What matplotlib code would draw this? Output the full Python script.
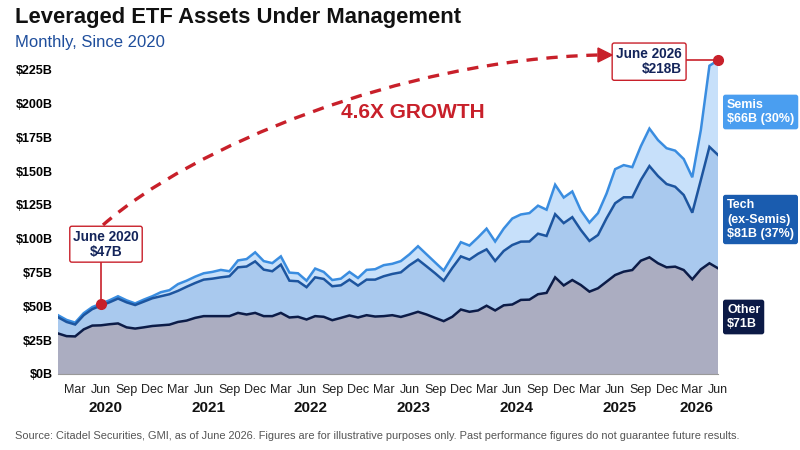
import numpy as np
import matplotlib
matplotlib.use("Agg")
import matplotlib.pyplot as plt
from matplotlib.path import Path
from matplotlib.patches import PathPatch

# --- data (USD bn, monthly Jan 2020 .. Jun 2026) ---
other_aum = [30.0, 28.0, 27.8, 33.0, 35.8, 36.0, 36.8, 37.4, 34.5, 33.6, 34.5, 35.5,
             36.0, 36.5, 38.5, 39.5, 41.5, 42.8, 42.8, 42.8, 42.8, 45.2, 44.0, 45.2,
             42.8, 42.8, 45.2, 41.8, 42.3, 40.3, 42.8, 42.3, 39.8, 41.5, 43.3, 41.8,
             43.5, 42.5, 42.8, 43.5, 42.2, 44.0, 46.0, 44.0, 41.5, 39.1, 42.3, 47.7,
             46.0, 47.0, 50.5, 47.0, 50.8, 51.4, 54.8, 55.0, 59.0, 60.0, 71.5, 65.5,
             69.5, 65.8, 60.9, 63.4, 68.3, 73.2, 75.7, 76.9, 83.8, 86.3, 81.9, 78.9,
             79.4, 76.9, 70.0, 77.4, 81.9, 78.2]
tech_aum = [12.0, 10.5, 8.8, 10.5, 12.2, 14.5, 16.2, 18.4, 18.5, 17.4, 19.0, 20.5,
            21.5, 22.5, 23.0, 25.0, 25.8, 27.0, 27.7, 28.7, 29.5, 33.7, 35.5, 38.1,
            34.4, 33.2, 35.7, 27.2, 26.3, 23.9, 28.7, 28.0, 25.1, 24.1, 26.5, 23.6,
            26.3, 27.3, 29.5, 30.5, 33.0, 36.4, 38.6, 35.6, 33.0, 29.9, 36.1, 39.3,
            38.6, 41.9, 41.7, 36.6, 40.2, 44.0, 43.1, 43.0, 44.8, 42.1, 46.7, 46.1,
            46.5, 40.7, 37.5, 39.4, 46.9, 53.1, 55.0, 53.8, 59.7, 67.5, 64.5, 61.6,
            59.1, 55.5, 49.3, 66.1, 86.1, 83.8]
semis_aum = [1.5, 1.5, 1.4, 1.5, 1.5, 1.5, 1.5, 1.7, 1.5, 1.2, 1.5, 1.5,
             3.0, 3.0, 5.0, 4.5, 4.7, 4.7, 5.0, 5.5, 3.7, 5.1, 5.5, 6.7,
             6.3, 6.0, 6.1, 6.0, 5.9, 4.8, 6.5, 5.2, 4.6, 4.9, 5.7, 5.6,
             7.2, 7.7, 8.2, 7.5, 8.3, 8.1, 9.9, 8.9, 8.0, 7.5, 8.6, 10.5,
             10.4, 12.1, 15.3, 14.4, 16.5, 19.6, 20.1, 21.0, 20.7, 19.4, 21.8, 18.9,
             19.0, 14.5, 13.6, 16.2, 18.3, 25.2, 23.8, 22.3, 25.0, 27.7, 26.6, 26.5,
             26.7, 26.6, 26.2, 37.0, 60.0, 70.0]

month_names = ["Jan", "Feb", "Mar", "Apr", "May", "Jun",
               "Jul", "Aug", "Sep", "Oct", "Nov", "Dec"]
years = [2020, 2021, 2022, 2023, 2024, 2025, 2026]
yticks = [0, 25, 50, 75, 100, 125, 150, 175, 200, 225]

C_OTHER_FILL = "#abadc1"
C_TECH_FILL = "#a9c9ee"
C_SEMIS_FILL = "#c7e0fa"
C_OTHER_LINE = "#0c1c48"
C_TECH_LINE = "#1d559f"
C_SEMIS_LINE = "#3a8de0"
RED = "#c8202a"
NAVY = "#13245a"

plt.rcParams["font.family"] = ["Liberation Sans", "DejaVu Sans"]

x = np.arange(len(other_aum))
lvl_other = np.array(other_aum)
lvl_tech = lvl_other + np.array(tech_aum)
lvl_total = lvl_tech + np.array(semis_aum)

fig = plt.figure(figsize=(8, 4.5), dpi=100)
ax = fig.add_axes([58 / 800, 1 - 374 / 450, 660 / 800, (374 - 49.5) / 450])

ax.stackplot(x, other_aum, tech_aum, semis_aum,
             colors=[C_OTHER_FILL, C_TECH_FILL, C_SEMIS_FILL], linewidth=0)
ax.plot(x, lvl_total, color=C_SEMIS_LINE, lw=1.8, solid_joinstyle="miter")
ax.plot(x, lvl_tech, color=C_TECH_LINE, lw=1.8, solid_joinstyle="miter")
ax.plot(x, lvl_other, color=C_OTHER_LINE, lw=1.8, solid_joinstyle="miter")

ax.set_xlim(0, len(x) - 1)
ax.set_ylim(0, 240)
for s in ["top", "right", "left"]:
    ax.spines[s].set_visible(False)
ax.spines["bottom"].set_color("#999999")
ax.spines["bottom"].set_linewidth(0.8)

ax.set_yticks(yticks)
ax.set_yticklabels([f"${v}B" for v in yticks], fontweight="bold", fontsize=9)
ax.tick_params(axis="y", length=0, pad=4)

qt = [i for i in x if (i % 12) in (2, 5, 8, 11)]
ax.set_xticks(qt)
ax.set_xticklabels([month_names[i % 12] for i in qt], fontsize=9, color="#222222")
ax.tick_params(axis="x", length=0, pad=7)

for yr in years:
    idx = [i for i in x if 2020 + i // 12 == yr]
    ax.text((idx[0] + idx[-1]) / 2, -0.105, str(yr), transform=ax.get_xaxis_transform(),
            ha="center", va="center", fontsize=11, fontweight="bold", color="#111111")

# --- title block ---
fig.text(15 / 800, 1 - 17 / 450, "Leveraged ETF Assets Under Management",
         fontsize=15.8, fontweight="bold", color="#111111", va="center")
fig.text(15 / 800, 1 - 42 / 450, "Monthly, Since 2020",
         fontsize=12, color="#1f4e9c", va="center")
fig.text(15 / 800, 1 - 436 / 450,
         "Source: Citadel Securities, GMI, as of June 2026. Figures are for illustrative "
         "purposes only. Past performance figures do not guarantee future results.",
         fontsize=7.9, color="#555555", va="center")


def px(xp, yp):
    return (xp / 800, 1 - yp / 450)


# dashed growth arrow
verts = [px(103, 225), px(190, 148), px(400, 60), px(598, 55)]
curve = PathPatch(Path(verts, [Path.MOVETO, Path.CURVE4, Path.CURVE4, Path.CURVE4]),
                  transform=fig.transFigure, fill=False, edgecolor=RED, lw=2.4,
                  linestyle=(0, (3.4, 2.6)))
fig.add_artist(curve)
fig.add_artist(plt.Polygon([px(598, 48), px(612, 55), px(598, 62)], closed=True,
                           transform=fig.transFigure, color=RED))
gx, gy = px(413, 113)
fig.text(gx, gy, "4.6X GROWTH", fontsize=15, fontweight="bold", color=RED,
         ha="center", va="center")

# June 2020 callout
i0 = 5
ax.plot([i0, i0], [lvl_total[i0], 86], color=RED, lw=1.2, zorder=4)
ax.plot(i0, lvl_total[i0], "o", color=RED, ms=7, zorder=5)
ax.text(i0 + 0.6, 96, "June 2020\n$47B", ha="center", va="center", fontsize=9.8,
        fontweight="bold", color=NAVY, linespacing=1.1, zorder=6,
        bbox=dict(boxstyle="round,pad=0.25,rounding_size=0.15", fc="white", ec=RED, lw=1))

# June 2026 callout
i1 = len(x) - 1
ax.plot([i1, 73], [lvl_total[i1], lvl_total[i1]], color=RED, lw=1.2, zorder=4, clip_on=False)
ax.plot(i1, lvl_total[i1], "o", color=RED, ms=7, zorder=5, clip_on=False)
ax.text(72.8, lvl_total[i1] - 1, "June 2026\n$218B", ha="right", va="center", fontsize=9.8,
        fontweight="bold", color=NAVY, linespacing=1.1, zorder=6,
        bbox=dict(boxstyle="round,pad=0.3,rounding_size=0.15", fc="white", ec=RED, lw=1))

# series labels on the right
labels = [("Semis\n$66B (30%)", 112, "#4a9ef0"),
          ("Tech\n(ex-Semis)\n$81B (37%)", 219.5, "#1a5caf"),
          ("Other\n$71B", 317, "#0c1a46")]
for txt, yc, col in labels:
    fig.text(727 / 800, 1 - yc / 450, txt, ha="left", va="center", fontsize=9,
             fontweight="bold", color="white", linespacing=1.3,
             bbox=dict(boxstyle="round,pad=0.32,rounding_size=0.2", fc=col, ec="none"))

fig.savefig("out.png", dpi=100, facecolor="white")
